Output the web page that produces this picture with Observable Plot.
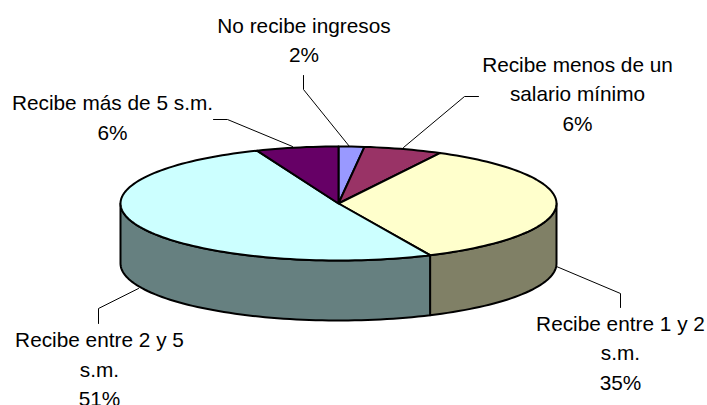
<!DOCTYPE html>
<html>
<head>
<meta charset="utf-8">
<style>html,body{margin:0;padding:0;background:#fff;overflow:hidden}</style>
<script src="https://cdn.jsdelivr.net/npm/d3@7"></script>
<script src="https://cdn.jsdelivr.net/npm/@observablehq/plot@0.6"></script>
</head>
<body>
<div id="chart"></div>
<script>
// Slices clockwise from 12 o'clock
const categories = ["No recibe ingresos", "Recibe menos de un\nsalario mínimo", "Recibe entre 1 y 2\ns.m.", "Recibe entre 2 y 5\ns.m.", "Recibe más de 5 s.m."];
const shares = [1.9, 5.8, 35.4, 50.8, 6.1];
const topColors = ["#9999FF", "#993366", "#FFFFCC", "#CCFFFF", "#660066"];
const sideColors = ["#4C4C80", "#4C1933", "#808066", "#668080", "#330033"];

// Layout: pixels of the picture, turned into pie units below
const cx = 338, cy = 203, rx = 218, ry = 57, depthPx = 60;
const labelAnchors = [[303.5, 37.5], [577, 91.5], [620, 350.5], [99, 367], [112, 115]];
const leaders = [
  [[303, 75], [303, 89], [349, 146]],
  [[478, 96], [464, 96], [403, 147]],
  [[620, 307], [620, 293], [556, 266]],
  [[98, 323], [98, 308], [138, 288]],
  [[213, 119], [227, 119], [292, 146]]
];

const ux = px => (px - cx) / rx;
const uy = py => (cy - py) / ry;
const depth = depthPx / ry;
const turn = p => p / 100 * 2 * Math.PI;
const rim = (t, drop = 0) => ({x: Math.sin(t), y: Math.cos(t) - drop});

function arc(t0, t1, drop = 0) {
  const n = Math.max(2, Math.ceil(Math.abs(t1 - t0) / 0.03));
  return d3.range(n + 1).map(i => rim(t0 + (t1 - t0) * i / n, drop));
}

let cum = 0;
const slices = shares.map((v, i) => {
  const t0 = turn(cum); cum += v; const t1 = turn(cum);
  return {i, t0, t1};
});

const sidePts = [], topPts = [];
for (const {i, t0, t1} of slices) {
  const a = Math.max(t0, Math.PI / 2), b = Math.min(t1, 3 * Math.PI / 2);
  if (b > a) {
    const ring = [...arc(a, b), ...arc(b, a, depth)];
    ring.push(ring[0]);
    ring.forEach(p => sidePts.push({...p, id: i, color: sideColors[i]}));
  }
  const ring = [{x: 0, y: 0}, ...arc(t0, t1), {x: 0, y: 0}];
  ring.forEach(p => topPts.push({...p, id: i, color: topColors[i]}));
}

const leaderPts = leaders.flatMap((l, id) => l.map(([x, y]) => ({x: ux(x), y: uy(y), id})));
const labels = categories.map((c, i) => ({
  text: `${c}\n${d3.format(".0f")(shares[i])}%`,
  x: ux(labelAnchors[i][0]),
  y: uy(labelAnchors[i][1])
}));

const poly = pts => Plot.line(pts, {
  x: "x", y: "y", z: "id", fill: "color", stroke: "#000",
  strokeWidth: 2, strokeLinejoin: "round", curve: "linear"
});

const chart = Plot.plot({
  width: 707, height: 405,
  marginTop: 0, marginRight: 0, marginBottom: 0, marginLeft: 0,
  x: {domain: [-1, 1], range: [cx - rx, cx + rx], axis: null},
  y: {domain: [1, -1], range: [cy - ry, cy + ry], axis: null},
  color: {type: "identity"},
  style: {background: "#fff", fontFamily: "'Liberation Sans', Arial, sans-serif"},
  marks: [
    Plot.line(leaderPts, {x: "x", y: "y", z: "id", stroke: "#000", strokeWidth: 1, curve: "linear"}),
    poly(sidePts),
    poly(topPts),
    Plot.text(labels, {
      x: "x", y: "y", text: "text",
      fontSize: 20.8, lineHeight: 1.42, lineAnchor: "middle",
      textAnchor: "middle", fill: "#000"
    })
  ]
});
document.getElementById("chart").appendChild(chart);
</script>
</body>
</html>
